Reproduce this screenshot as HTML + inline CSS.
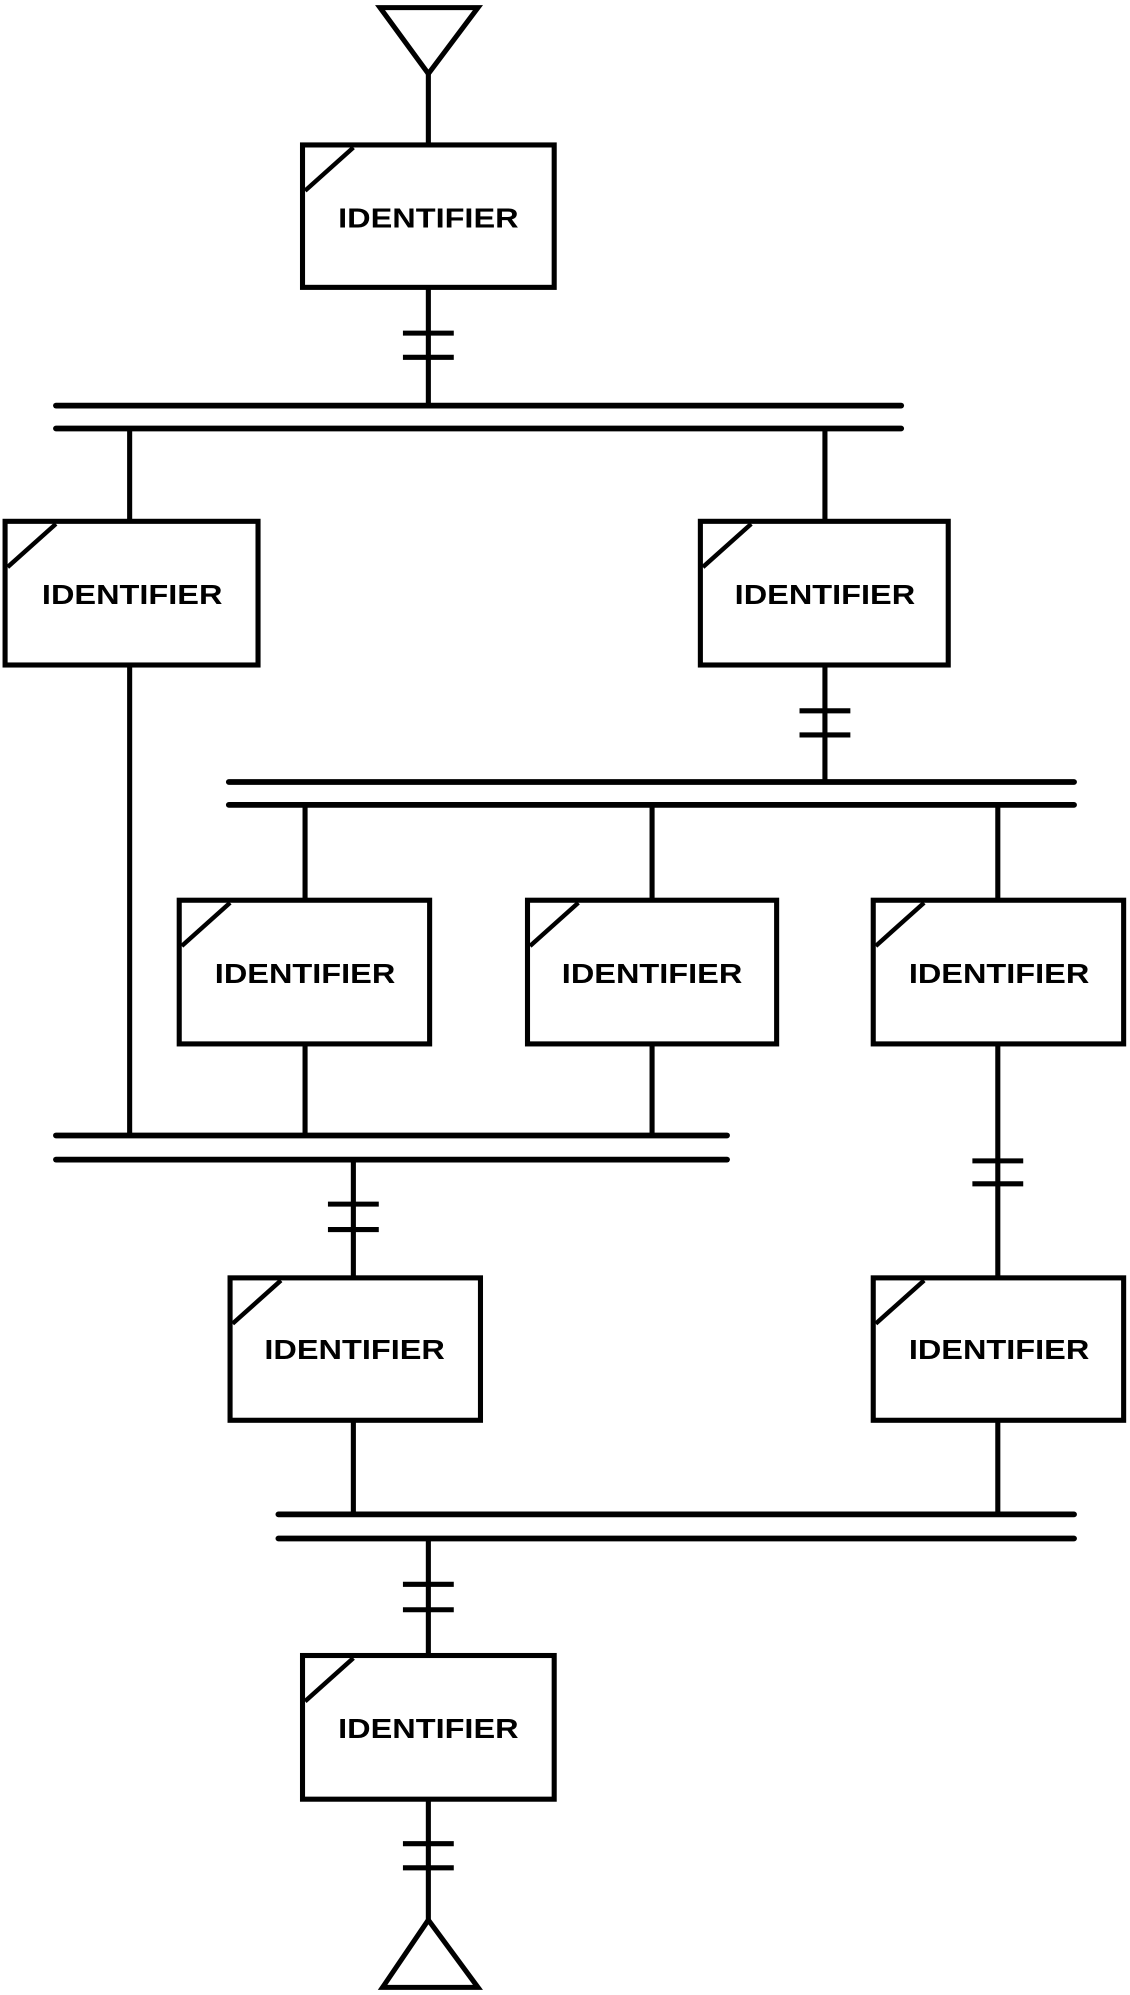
<!DOCTYPE html>
<html><head><style>html,body{margin:0;padding:0;background:#fff}svg{display:block}</style></head><body>
<svg width="1130" height="1995" viewBox="0 0 889 1569" preserveAspectRatio="none" xmlns="http://www.w3.org/2000/svg">
<g stroke="#000" stroke-width="4" fill="none" stroke-linecap="butt">
<polygon points="299,6 376,6 337,58"/>
<polygon points="337,1510 301,1563 376,1563"/>
<line x1="337" y1="58" x2="337" y2="114"/>
<line x1="337" y1="226" x2="337" y2="319"/>
<line x1="102" y1="337" x2="102" y2="410"/>
<line x1="649" y1="337" x2="649" y2="410"/>
<line x1="102" y1="523" x2="102" y2="893"/>
<line x1="649" y1="523" x2="649" y2="615"/>
<line x1="240" y1="633" x2="240" y2="708"/>
<line x1="513" y1="633" x2="513" y2="708"/>
<line x1="785" y1="633" x2="785" y2="708"/>
<line x1="240" y1="821" x2="240" y2="893"/>
<line x1="513" y1="821" x2="513" y2="893"/>
<line x1="278" y1="912" x2="278" y2="1005"/>
<line x1="785" y1="821" x2="785" y2="1005"/>
<line x1="278" y1="1117" x2="278" y2="1191"/>
<line x1="785" y1="1117" x2="785" y2="1191"/>
<line x1="337" y1="1210" x2="337" y2="1302"/>
<line x1="337" y1="1415" x2="337" y2="1510"/>
<line x1="317" y1="262" x2="357" y2="262"/><line x1="317" y1="281" x2="357" y2="281"/>
<line x1="629" y1="559" x2="669" y2="559"/><line x1="629" y1="578" x2="669" y2="578"/>
<line x1="258" y1="947" x2="298" y2="947"/><line x1="258" y1="967" x2="298" y2="967"/>
<line x1="765" y1="913" x2="805" y2="913"/><line x1="765" y1="931" x2="805" y2="931"/>
<line x1="317" y1="1246" x2="357" y2="1246"/><line x1="317" y1="1266" x2="357" y2="1266"/>
<line x1="317" y1="1450" x2="357" y2="1450"/><line x1="317" y1="1469" x2="357" y2="1469"/>
</g>
<g stroke="#000" stroke-width="4.5" stroke-linecap="round">
<line x1="44" y1="319" x2="709" y2="319"/><line x1="44" y1="337" x2="709" y2="337"/>
<line x1="180" y1="615" x2="845" y2="615"/><line x1="180" y1="633" x2="845" y2="633"/>
<line x1="44" y1="893" x2="572" y2="893"/><line x1="44" y1="912" x2="572" y2="912"/>
<line x1="219" y1="1191" x2="845" y2="1191"/><line x1="219" y1="1210" x2="845" y2="1210"/>
</g>
<g stroke="#000" stroke-width="4" fill="#fff">
<rect x="238" y="114" width="198" height="112"/>
<rect x="4" y="410" width="199" height="113"/>
<rect x="551" y="410" width="195" height="113"/>
<rect x="141" y="708" width="197" height="113"/>
<rect x="415" y="708" width="196" height="113"/>
<rect x="687" y="708" width="197" height="113"/>
<rect x="181" y="1005" width="197" height="112"/>
<rect x="687" y="1005" width="197" height="112"/>
<rect x="238" y="1302" width="198" height="113"/>
</g>
<g stroke="#000" stroke-width="3.5">
<line x1="240" y1="150" x2="278" y2="116"/>
<line x1="6" y1="446" x2="44" y2="412"/>
<line x1="553" y1="446" x2="591" y2="412"/>
<line x1="143" y1="744" x2="181" y2="710"/>
<line x1="417" y1="744" x2="455" y2="710"/>
<line x1="689" y1="744" x2="727" y2="710"/>
<line x1="183" y1="1041" x2="221" y2="1007"/>
<line x1="689" y1="1041" x2="727" y2="1007"/>
<line x1="240" y1="1338" x2="278" y2="1304"/>
</g>
<g font-family="Liberation Sans, sans-serif" font-weight="bold" font-size="21.5" text-anchor="middle" fill="#000">
<text x="337" y="179" textLength="142" lengthAdjust="spacingAndGlyphs">IDENTIFIER</text>
<text x="104" y="475" textLength="142" lengthAdjust="spacingAndGlyphs">IDENTIFIER</text>
<text x="649" y="475" textLength="142" lengthAdjust="spacingAndGlyphs">IDENTIFIER</text>
<text x="240" y="773" textLength="142" lengthAdjust="spacingAndGlyphs">IDENTIFIER</text>
<text x="513" y="773" textLength="142" lengthAdjust="spacingAndGlyphs">IDENTIFIER</text>
<text x="786" y="773" textLength="142" lengthAdjust="spacingAndGlyphs">IDENTIFIER</text>
<text x="279" y="1069" textLength="142" lengthAdjust="spacingAndGlyphs">IDENTIFIER</text>
<text x="786" y="1069" textLength="142" lengthAdjust="spacingAndGlyphs">IDENTIFIER</text>
<text x="337" y="1367" textLength="142" lengthAdjust="spacingAndGlyphs">IDENTIFIER</text>
</g>
</svg>
</body></html>
